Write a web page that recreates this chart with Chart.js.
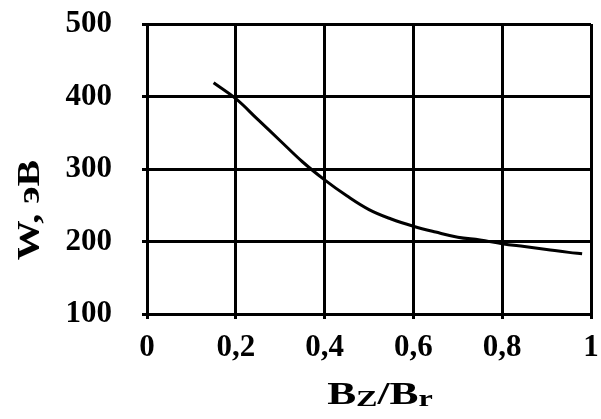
<!DOCTYPE html>
<html>
<head>
<meta charset="utf-8">
<script src="https://cdn.jsdelivr.net/npm/chart.js@4/dist/chart.umd.min.js"></script>
<style>
  html, body { margin: 0; padding: 0; background: #fff; }
  #wrap { width: 601px; height: 419px; }
</style>
</head>
<body>
<div id="wrap"><canvas id="energyChart" width="601" height="419"></canvas></div>
<script>
const ratio = [0.15, 0.2, 0.25, 0.3, 0.35, 0.4, 0.45, 0.5, 0.55, 0.6, 0.65, 0.7, 0.75, 0.8, 0.85, 0.9, 0.95, 0.98];
const energy = [419, 397, 368, 339, 310, 285, 263, 244, 231, 221, 213, 206, 202, 197, 193, 189, 185, 183];
const xTicks = [0, 0.2, 0.4, 0.6, 0.8, 1];
const yTicks = [100, 200, 300, 400, 500];
const yTitle = 'W, эВ';

const serif = '"Liberation Serif", "DejaVu Serif", serif';

// axis titles drawn by hand: the x one needs subscripts (B_Z / B_r)
const titlePlugin = {
    id: 'axisTitles',
    afterDraw(chart) {
        const c = chart.ctx;
        c.save();
        c.fillStyle = '#000';
        c.textBaseline = 'alphabetic';

        const parts = [
            { t: 'B', big: true }, { t: 'Z', big: false }, { t: '/', big: true },
            { t: 'B', big: true }, { t: 'r', big: false }
        ];
        let total = 0;
        parts.forEach(p => {
            c.font = 'bold ' + (p.big ? 31 : 23) + 'px ' + serif;
            p.w = c.measureText(p.t).width;
            total += p.w;
        });
        c.translate(380, 404);
        c.scale(1.4, 1);
        let x = -total / 2;
        parts.forEach(p => {
            c.font = 'bold ' + (p.big ? 31 : 23) + 'px ' + serif;
            c.fillText(p.t, x, p.big ? 0 : 2);
            x += p.w;
        });
        c.restore();

        c.save();
        c.fillStyle = '#000';
        c.font = 'bold 32px ' + serif;
        c.textAlign = 'center';
        c.textBaseline = 'middle';
        c.translate(31, 210);
        c.rotate(-Math.PI / 2);
        c.scale(1.25, 1);
        c.fillText(yTitle, 0, 0);
        c.restore();
    }
};

const ctx = document.getElementById('energyChart').getContext('2d');

const config = {
    type: 'line',
    data: {
        datasets: [{
            label: 'W',
            data: ratio.map((r, i) => ({ x: r, y: energy[i] })),
            borderColor: '#000',
            borderWidth: 3,
            pointRadius: 0,
            fill: false,
            tension: 0.4
        }]
    },
    options: {
        responsive: false,
        animation: false,
        layout: { padding: { left: 10, right: 10, top: 24, bottom: 0 } },
        plugins: {
            legend: { display: false },
            tooltip: { enabled: false }
        },
        scales: {
            x: {
                type: 'linear',
                min: 0,
                max: 1,
                afterBuildTicks: s => { s.ticks = xTicks.map(v => ({ value: v })); },
                afterFit: s => { s.height = 105; s.paddingLeft = 0; s.paddingRight = 0; },
                grid: { color: '#000', lineWidth: 3, tickLength: 5 },
                border: { color: '#000', width: 3 },
                ticks: {
                    color: '#000',
                    padding: 10,
                    maxRotation: 0,
                    font: { family: serif, size: 31, weight: 'bold' },
                    callback: v => String(v).replace('.', ',')
                }
            },
            y: {
                min: 100,
                max: 500,
                afterBuildTicks: s => { s.ticks = yTicks.map(v => ({ value: v })); },
                afterFit: s => { s.width = 137; s.paddingTop = 0; s.paddingBottom = 0; },
                grid: { color: '#000', lineWidth: 3, tickLength: 5 },
                border: { color: '#000', width: 3 },
                ticks: {
                    color: '#000',
                    padding: 30,
                    font: { family: serif, size: 31, weight: 'bold' }
                }
            }
        }
    },
    plugins: [titlePlugin]
};

const energyChart = new Chart(ctx, config);
</script>
</body>
</html>
